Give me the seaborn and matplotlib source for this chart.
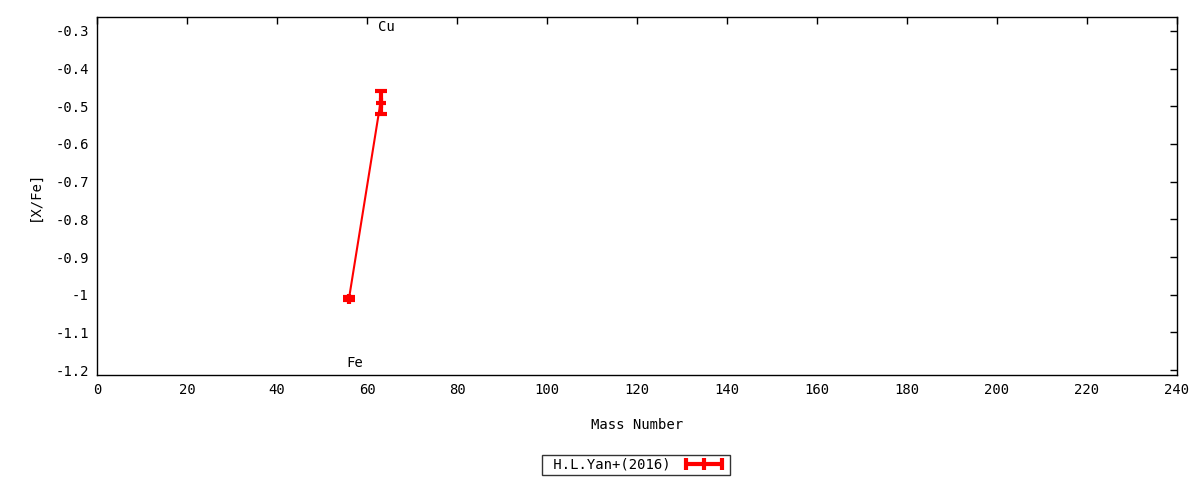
import numpy as np
import seaborn as sns
import matplotlib
matplotlib.use("Agg")
import matplotlib.pyplot as plt
from matplotlib.lines import Line2D
import pandas as pd

# valores
elements = ["Fe", "Cu"]
mass_number = [56, 63]
x_fe = [-1.01, -0.49]
x_fe_err = [0.005, 0.03]
label_y = [-1.18, -0.29]

df = pd.DataFrame({"element": elements, "mass": mass_number,
                   "xfe": x_fe, "err": x_fe_err, "ly": label_y})

sns.set_style("white")
plt.rcParams['font.family'] = ['DejaVu Sans Mono', 'DejaVu Sans']
plt.rcParams['font.size'] = 10
plt.rcParams['text.color'] = 'black'

fig = plt.figure(figsize=(12, 4.8), dpi=100)
ax = fig.add_axes([97/1200, 1 - 375/480, 1080/1200, 358/480])

sns.lineplot(data=df, x="mass", y="xfe", ax=ax, color="red", lw=1.5, legend=False)
ax.errorbar(df["mass"], df["xfe"], yerr=df["err"], fmt="none", ecolor="red",
            elinewidth=3, capsize=4, capthick=3)
ax.plot(df["mass"], df["xfe"], ls="none", marker="+", ms=7, mew=3, color="red")

for _, r in df.iterrows():
    ax.text(r["mass"] - 0.5, r["ly"], r["element"], ha="left", va="center", fontsize=10)

ax.set_xlim(0, 240)
ax.set_ylim(-1.213, -0.263)
ax.set_xticks(np.arange(0, 241, 20))
ax.set_yticks(np.arange(-1.2, -0.25, 0.1))
ax.set_yticklabels(["-1.2", "-1.1", "-1", "-0.9", "-0.8", "-0.7", "-0.6", "-0.5", "-0.4", "-0.3"])
ax.tick_params(direction="in", length=5, width=1, top=True, right=True, pad=6,
               colors="black", labelcolor="black")
for s in ax.spines.values():
    s.set_color("black")
    s.set_linewidth(1)
ax.set_xlabel("Mass Number", labelpad=15, color="black")
ax.set_ylabel("[X/Fe]", labelpad=10, color="black")

handle = Line2D([], [], color="red", lw=3, marker="|", ms=8, mew=3,
                label=" H.L.Yan+(2016)")
leg = fig.legend(handles=[handle], loc="center", bbox_to_anchor=(636/1200, 1 - 465/480),
                 frameon=True, fancybox=False, edgecolor="black", markerfirst=False,
                 numpoints=3, handlelength=3.2, borderpad=0.25, fontsize=10)
leg.get_frame().set_linewidth(1)

plt.savefig("out.png", dpi=100)
plt.close()
